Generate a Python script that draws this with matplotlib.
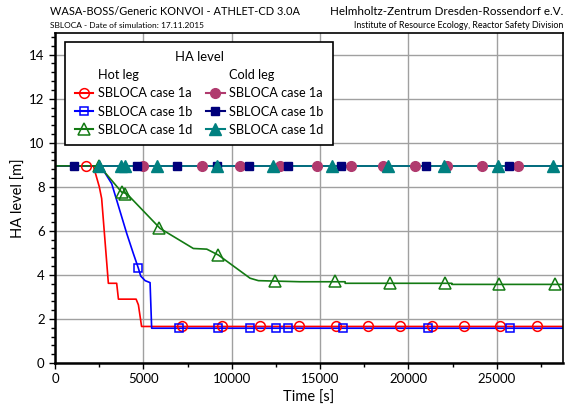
import numpy as np
import matplotlib
matplotlib.use("Agg")
import matplotlib.pyplot as plt
from matplotlib.lines import Line2D

plt.rcParams['font.family'] = ['Lato', 'DejaVu Sans']

# Kurven (Stützpunkte) der Hot-leg-Fälle
hot_1a_t = [0, 2170, 2510, 2640, 3020, 3490, 3590, 4590, 4720, 4900, 28750]
hot_1a_y = [8.95, 8.95, 7.99, 7.47, 3.62, 3.62, 2.90, 2.90, 2.64, 1.66, 1.66]

hot_1b_t = [0, 2550, 2740, 3210, 4060, 4430, 4720, 4850, 5100, 5380, 5470, 28750]
hot_1b_y = [8.95, 8.95, 8.75, 8.14, 5.88, 4.98, 4.30, 3.95, 3.74, 3.65, 1.58, 1.58]

hot_1d_t = [0, 2510, 3770, 4060, 5950, 7830, 8590, 9250, 11040, 11510, 13870,
            16420, 16420, 22460, 22460, 28750]
hot_1d_y = [8.95, 8.95, 7.76, 7.69, 6.11, 5.20, 5.17, 4.90, 3.85, 3.74, 3.69,
            3.69, 3.62, 3.62, 3.57, 3.57]

cold_t = [0, 28750]
cold_y = [8.95, 8.95]

# Marker-Positionen
hot_1a_mt = [1740, 7170, 9440, 11610, 13800, 15890, 17700, 19530, 21330, 23160, 25200, 27280]
hot_1a_my = [8.95] + [1.70] * 11

hot_1b_mt = [4720, 7040, 9210, 11040, 12510, 13200, 16320, 21130, 25760]
hot_1b_my = [4.30] + [1.58] * 8

hot_1d_mt = [2510, 3780, 3960, 5890, 9250, 12460, 15860, 18930, 22080, 25140, 28270]
hot_1d_my = [8.95, 7.76, 7.69, 6.11, 4.90, 3.72, 3.72, 3.65, 3.65, 3.60, 3.60]

cold_1a_mt = [4970, 8310, 10480, 12740, 14820, 16760, 18590, 20380, 22180, 24160, 26180]
cold_1b_mt = [1080, 4660, 6930, 9160, 10990, 13180, 16200, 21010, 25670]
cold_1d_mt = [2510, 3720, 3960, 5790, 9160, 12360, 15700, 18870, 21990, 25050, 28180]

RED = "#ff0000"
BLUE = "#0000ff"
GREEN = "#137a13"
PURPLE = "#b03a6e"
NAVY = "#00007a"
TEAL = "#008080"

fig = plt.figure(figsize=(5.67, 4.13), dpi=100)
ax = fig.add_axes([0.097, 0.121, 0.896, 0.8])

# Cold leg
ax.plot(cold_t, cold_y, color=PURPLE, lw=1.2)
ax.plot(cold_t, cold_y, color=NAVY, lw=1.2)
ax.plot(cold_t, cold_y, color=TEAL, lw=1.2)

# Hot leg
ax.plot(hot_1a_t, hot_1a_y, color=RED, lw=1.2)
ax.plot(hot_1b_t, hot_1b_y, color=BLUE, lw=1.2)
ax.plot(hot_1d_t, hot_1d_y, color=GREEN, lw=1.2)

ax.plot(hot_1a_mt, hot_1a_my, ls="none", marker="o", ms=7, mfc="none", mec=RED, mew=1.1)
ax.plot(hot_1b_mt, hot_1b_my, ls="none", marker="s", ms=6, mfc="none", mec=BLUE, mew=1.1)
ax.plot(hot_1d_mt, hot_1d_my, ls="none", marker="^", ms=8, mfc="none", mec=GREEN, mew=1.1)

ax.plot(cold_1a_mt, [cold_y[0]] * len(cold_1a_mt), ls="none", marker="o", ms=7, color=PURPLE)
ax.plot(cold_1b_mt, [cold_y[0]] * len(cold_1b_mt), ls="none", marker="s", ms=6, color=NAVY)
ax.plot(cold_1d_mt, [cold_y[0]] * len(cold_1d_mt), ls="none", marker="^", ms=8.5, color=TEAL)

ax.set_xlim(0, 28750)
ax.set_ylim(0, 15)
ax.set_xticks(np.arange(0, 28001, 5000))
ax.set_xticks(np.arange(0, 28750, 2500), minor=True)
ax.set_yticks(np.arange(0, 15, 2))
ax.set_yticks(np.arange(0, 15, 0.4), minor=True)
ax.grid(True, which="major", color="#a0a0a0", lw=1)
ax.set_axisbelow(True)

ax.tick_params(which="both", direction="out", color="black", labelsize=9.5)
ax.tick_params(which="major", length=4, width=1)
ax.tick_params(which="minor", length=3, width=1)
for side in ["left", "bottom"]:
    ax.spines[side].set_linewidth(1.8)
for side in ["top", "right"]:
    ax.spines[side].set_linewidth(1.2)

ax.set_xlabel("Time [s]", fontsize=10.5)
ax.set_ylabel("HA level [m]", fontsize=10.5, labelpad=2)

# Legende mit Spaltenköpfen
blank = Line2D([], [], ls="none")
handles = [
    blank,
    Line2D([], [], color=RED, marker="o", ms=7, mfc="none", mec=RED, mew=1.1),
    Line2D([], [], color=BLUE, marker="s", ms=6, mfc="none", mec=BLUE, mew=1.1),
    Line2D([], [], color=GREEN, marker="^", ms=8, mfc="none", mec=GREEN, mew=1.1),
    blank,
    Line2D([], [], color=PURPLE, marker="o", ms=7),
    Line2D([], [], color=NAVY, marker="s", ms=6),
    Line2D([], [], color=TEAL, marker="^", ms=8.5),
]
labels = ["Hot leg", "SBLOCA case 1a", "SBLOCA case 1b", "SBLOCA case 1d",
          "Cold leg", "SBLOCA case 1a", "SBLOCA case 1b", "SBLOCA case 1d"]
leg = ax.legend(handles, labels, ncol=2, title="HA level", loc="upper left",
                bbox_to_anchor=(0.0197, 0.973), borderaxespad=0, fontsize=9.2,
                title_fontsize=9.4, frameon=True, fancybox=False, edgecolor="black",
                framealpha=1, handlelength=1.45, handletextpad=0.35, columnspacing=1.1,
                labelspacing=0.48, borderpad=0.75)
leg.get_frame().set_linewidth(1.2)

fig.text(0.088, 0.963, "WASA-BOSS/Generic KONVOI - ATHLET-CD 3.0A", fontsize=7.9, va="baseline")
fig.text(0.088, 0.932, "SBLOCA - Date of simulation: 17.11.2015", fontsize=6.0, va="baseline")
fig.text(0.993, 0.963, "Helmholtz-Zentrum Dresden-Rossendorf e.V.", fontsize=8.4, ha="right", va="baseline")
fig.text(0.993, 0.932, "Institute of Resource Ecology, Reactor Safety Division", fontsize=6.4, ha="right", va="baseline")

fig.savefig("out.png", dpi=100)
